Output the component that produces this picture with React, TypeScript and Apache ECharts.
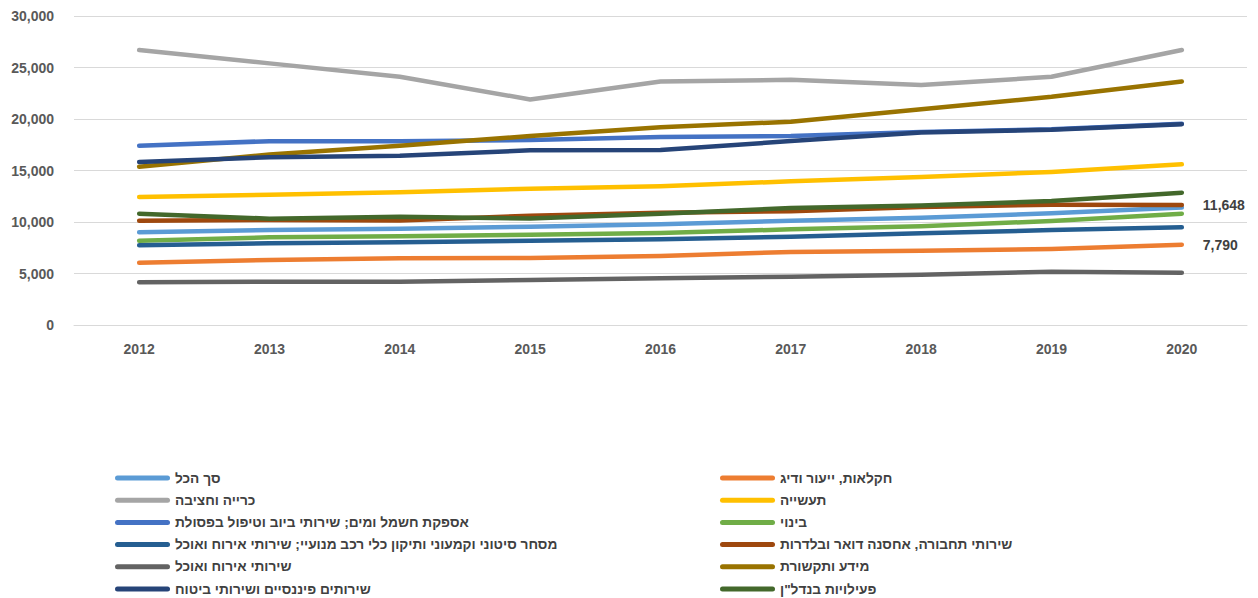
import React, { useEffect, useRef } from "react";
import * as echarts from "echarts";

const years = ["2012", "2013", "2014", "2015", "2016", "2017", "2018", "2019", "2020"];

const seriesNames = [
  "סך הכל",
  "חקלאות, ייעור ודיג",
  "כרייה וחציבה",
  "תעשייה",
  "אספקת חשמל ומים; שירותי ביוב וטיפול בפסולת",
  "בינוי",
  "מסחר סיטוני וקמעוני ותיקון כלי רכב מנועיי; שירותי אירוח ואוכל",
  "שירותי תחבורה, אחסנה דואר ובלדרות",
  "שירותי אירוח ואוכל",
  "מידע ותקשורת",
  "שירותים פיננסיים ושירותי ביטוח",
  'פעילויות בנדל"ן',
];

const colors = [
  "#5B9BD5", "#ED7D31", "#A5A5A5", "#FFC000", "#4472C4", "#70AD47",
  "#255E91", "#9E480E", "#636363", "#997300", "#264478", "#43682B",
];

const total = [9000, 9220, 9350, 9545, 9775, 10130, 10420, 10845, 11400];
const agriculture = [6050, 6310, 6475, 6505, 6700, 7090, 7215, 7380, 7790];
const mining = [26700, 25400, 24100, 21900, 23650, 23800, 23300, 24100, 26700];
const industry = [12430, 12650, 12880, 13235, 13460, 13950, 14370, 14855, 15600];
const electricity = [17400, 17850, 17850, 17960, 18250, 18350, 18750, 19000, 19550];
const construction = [8190, 8515, 8610, 8770, 8930, 9290, 9580, 10100, 10800];
const trade = [7735, 7930, 8030, 8185, 8320, 8575, 8900, 9220, 9485];
const transport = [10130, 10200, 10150, 10600, 10900, 11050, 11450, 11680, 11648];
const hospitality = [4145, 4200, 4200, 4370, 4530, 4690, 4885, 5175, 5080];
const information = [15370, 16550, 17400, 18350, 19190, 19740, 20950, 22150, 23650];
const finance = [15825, 16280, 16440, 16960, 16990, 17860, 18700, 18950, 19500];
const realEstate = [10800, 10320, 10500, 10350, 10800, 11350, 11600, 12040, 12850];

const allValues = [
  total, agriculture, mining, industry, electricity, construction,
  trade, transport, hospitality, information, finance, realEstate,
];

// series whose last point carries a data label
const labelledSeries = [1, 7];

const yTicks = { min: 0, max: 30000, interval: 5000 };

const FONT = "'Liberation Sans', 'DejaVu Sans', 'Open Sans', sans-serif";

const capsule = "path://M2.5,0 L52.5,0 A2.5,2.5 0 0 1 52.5,5 L2.5,5 A2.5,2.5 0 0 1 2.5,0 Z";

export default function App() {
  const ref = useRef<HTMLDivElement>(null);

  useEffect(() => {
    if (!ref.current) return;
    const chart = echarts.init(ref.current, undefined, { renderer: "svg" });
    const series = allValues.map((vals, si) => ({
      name: seriesNames[si],
      type: "line",
      data: vals,
      showSymbol: false,
      symbol: "none",
      lineStyle: { width: 4.5, color: colors[si], cap: "round", join: "round" },
      itemStyle: { color: colors[si] },
      endLabel: {
        show: labelledSeries.includes(si),
        distance: 21,
        formatter: (p: any) => Number(p.value).toLocaleString("en-US"),
        fontFamily: FONT,
        fontWeight: "bold",
        fontSize: 14,
        color: "#404040",
      },
      emphasis: { disabled: true },
    }));

    const legendBase = {
      orient: "vertical",
      top: 470,
      height: 128,
      padding: 0,
      itemWidth: 55,
      itemHeight: 5,
      itemGap: 6.2,
      icon: capsule,
      textStyle: {
        fontFamily: FONT,
        fontSize: 13.7,
        fontWeight: "bold",
        color: "#404040",
        lineHeight: 16,
      },
      selectedMode: false,
    };

    chart.setOption({
      animation: false,
      color: colors,
      grid: { left: 74, right: 11, top: 16, bottom: 273, containLabel: false },
      xAxis: {
        type: "category",
        data: years,
        boundaryGap: true,
        axisLine: { show: true, lineStyle: { color: "#D9D9D9", width: 1 } },
        axisTick: { show: false },
        axisLabel: {
          margin: 17,
          fontFamily: FONT,
          fontWeight: "bold",
          fontSize: 14,
          color: "#595959",
        },
      },
      yAxis: {
        type: "value",
        min: yTicks.min,
        max: yTicks.max,
        interval: yTicks.interval,
        axisLine: { show: false },
        axisTick: { show: false },
        splitLine: { lineStyle: { color: "#D9D9D9", width: 1 } },
        axisLabel: {
          margin: 20,
          fontFamily: FONT,
          fontWeight: "bold",
          fontSize: 14,
          color: "#595959",
          formatter: (v: number) => v.toLocaleString("en-US"),
        },
      },
      legend: [
        { ...legendBase, left: 115, data: seriesNames.filter((_, i) => i % 2 === 0) },
        { ...legendBase, left: 720, data: seriesNames.filter((_, i) => i % 2 === 1) },
      ],
      series,
    });
    return () => chart.dispose();
  }, []);

  return (
    <div
      ref={ref}
      style={{ position: "fixed", left: 0, top: 0, width: 1258, height: 598, background: "#fff" }}
    />
  );
}
